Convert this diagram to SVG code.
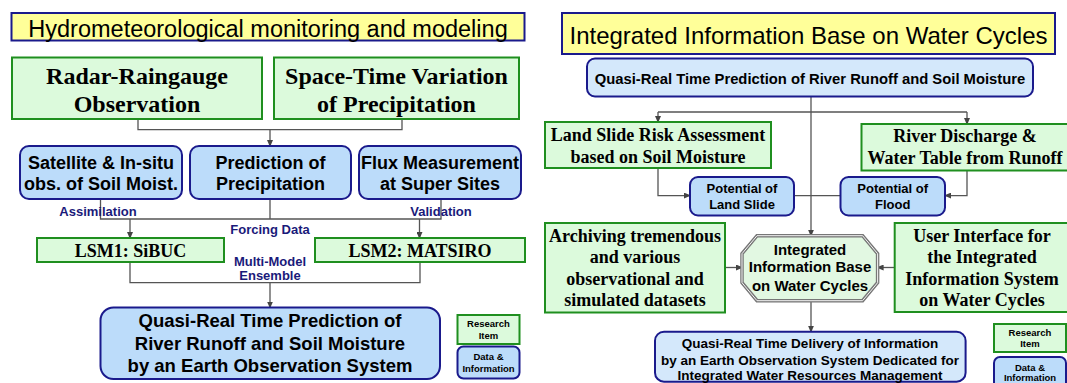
<svg xmlns="http://www.w3.org/2000/svg" width="1067" height="383" viewBox="0 0 1067 383">
<style>
.title{fill:#ffff99;stroke:#1a1a8c;stroke-width:2}
.g{fill:#dcfadc;stroke:#1f8f1f;stroke-width:2}
.b{fill:#bcdcfa;stroke:#1a1a8c;stroke-width:2}
.b2{fill:#d4e8fb;stroke:#1a1a8c;stroke-width:2}
.ln{fill:none;stroke:#555;stroke-width:1.3}
.arr{marker-end:url(#ah)}
.tt{font-family:"Liberation Sans",Arial,sans-serif;font-size:24px;fill:#000;text-anchor:middle}
.sf{font-family:"Liberation Serif","Times New Roman",serif;font-weight:bold;fill:#000;text-anchor:middle}
.ss{font-family:"Liberation Sans",Arial,sans-serif;font-weight:bold;fill:#000;text-anchor:middle}
.lab{font-family:"Liberation Sans",Arial,sans-serif;font-weight:bold;font-size:13px;fill:#1a1a7a;text-anchor:middle}
.leg{font-family:"Liberation Sans",Arial,sans-serif;font-weight:bold;font-size:9.5px;fill:#000;text-anchor:middle}
</style>
<defs>
<marker id="ah" markerWidth="7" markerHeight="6" refX="6" refY="3" orient="auto" markerUnits="userSpaceOnUse">
<path d="M0,0 L7,3 L0,6 Z" fill="#444"/>
</marker>
</defs>
<rect width="1067" height="383" fill="#fff"/>

<g id="connectors">
<path class="ln" d="M138 119 V129.6 H402 V119"/>
<path class="ln arr" d="M270 129.6 V146"/>
<path class="ln" d="M100.5 199 V219 H441 V199 M270 199 V219"/>
<path class="ln arr" d="M130 219 V238"/>
<path class="ln arr" d="M419.5 219 V238"/>
<path class="ln" d="M130 262 V282.7 H420 V262"/>
<path class="ln arr" d="M270 282.7 V307.5"/>
<path class="ln arr" d="M811 96.5 V235.7"/>
<path class="ln" d="M658 112 H967"/>
<path class="ln arr" d="M658 112 V122"/>
<path class="ln arr" d="M967 112 V124"/>
<path class="ln arr" d="M658 168 V195.6 H690"/>
<path class="ln arr" d="M967 170.5 V195.6 H945"/>
<path class="ln" d="M794 195.6 H840.5"/>
<path class="ln arr" d="M725 267.5 H742"/>
<path class="ln arr" d="M894.7 267.5 H877.6"/>
<path class="ln arr" d="M811 300.7 V331.7"/>
<text class="lab" x="98" y="216">Assimilation</text>
<text class="lab" x="441" y="216">Validation</text>
<text class="lab" x="270" y="234">Forcing Data</text>
<text class="lab" x="270" y="266">Multi-Model</text>
<text class="lab" x="270" y="280">Ensemble</text>
</g>

<g id="title-left">
<rect class="title" x="11.5" y="13" width="513" height="27.5"/>
<text class="tt" x="268" y="37" style="font-size:23.5px">Hydrometeorological monitoring and modeling</text>
</g>
<g id="radar">
<rect class="g" x="12" y="57.5" width="250" height="61.5"/>
<text class="sf" x="137" y="84" font-size="24">Radar-Raingauge</text>
<text class="sf" x="137" y="112" font-size="24">Observation</text>
</g>
<g id="spacetime">
<rect class="g" x="274" y="57.5" width="245" height="61.5"/>
<text class="sf" x="396.5" y="84" font-size="24">Space-Time Variation</text>
<text class="sf" x="396.5" y="112" font-size="24">of Precipitation</text>
</g>
<g id="satellite">
<rect class="b" x="20" y="146" width="162" height="53" rx="9"/>
<text class="ss" x="101" y="169" font-size="18">Satellite &amp; In-situ</text>
<text class="ss" x="101" y="190" font-size="18">obs. of Soil Moist.</text>
</g>
<g id="prediction">
<rect class="b" x="190" y="146" width="161" height="53" rx="9"/>
<text class="ss" x="270.5" y="169" font-size="18">Prediction of</text>
<text class="ss" x="270.5" y="190" font-size="18">Precipitation</text>
</g>
<g id="flux">
<rect class="b" x="359" y="146" width="162" height="53" rx="9"/>
<text class="ss" x="440" y="169" font-size="18">Flux Measurement</text>
<text class="ss" x="440" y="190" font-size="18">at Super Sites</text>
</g>
<g id="lsm1">
<rect class="g" x="37" y="238" width="187" height="24"/>
<text class="sf" x="130.5" y="257" font-size="18">LSM1: SiBUC</text>
</g>
<g id="lsm2">
<rect class="g" x="315" y="238" width="210" height="24"/>
<text class="sf" x="420" y="257" font-size="18">LSM2: MATSIRO</text>
</g>
<g id="quasi-left">
<rect class="b" x="100.5" y="307.5" width="339.5" height="71.5" rx="13"/>
<text class="ss" x="270" y="327" font-size="18.5">Quasi-Real Time Prediction of</text>
<text class="ss" x="270" y="349.5" font-size="18.5">River Runoff and Soil Moisture</text>
<text class="ss" x="270" y="372" font-size="18.5">by an Earth Observation System</text>
</g>
<g id="legend-left">
<rect class="g" x="457.5" y="315" width="62" height="29"/>
<text class="leg" x="488.5" y="327">Research</text>
<text class="leg" x="488.5" y="338.5">Item</text>
<rect class="b" x="457.5" y="346.5" width="62" height="32" rx="6"/>
<text class="leg" x="488.5" y="360">Data &amp;</text>
<text class="leg" x="488.5" y="371.5">Information</text>
</g>

<g id="title-right">
<rect class="title" x="562" y="13" width="493" height="41"/>
<text class="tt" x="808.5" y="43.5">Integrated Information Base on Water Cycles</text>
</g>
<g id="quasi-right">
<rect class="b2" x="587" y="58.5" width="446" height="38" rx="8"/>
<text class="ss" x="810" y="83.5" font-size="14.8">Quasi-Real Time Prediction of River Runoff and Soil Moisture</text>
</g>
<g id="landslide-risk">
<rect class="g" x="545" y="122" width="226" height="46"/>
<text class="sf" x="658" y="140.5" font-size="18">Land Slide Risk Assessment</text>
<text class="sf" x="658" y="162.5" font-size="18">based on Soil Moisture</text>
</g>
<g id="river">
<rect class="g" x="861.5" y="124" width="212" height="46.5"/>
<text class="sf" x="965" y="142" font-size="18">River Discharge &amp;</text>
<text class="sf" x="965" y="164" font-size="18">Water Table from Runoff</text>
</g>
<g id="pot-landslide">
<rect class="b" x="690" y="177" width="104" height="38.5" rx="8"/>
<text class="ss" x="742" y="193" font-size="13">Potential of</text>
<text class="ss" x="742" y="208.6" font-size="13">Land Slide</text>
</g>
<g id="pot-flood">
<rect class="b" x="840.5" y="177" width="104.5" height="38.5" rx="8"/>
<text class="ss" x="892.7" y="193" font-size="13">Potential of</text>
<text class="ss" x="892.7" y="208.6" font-size="13">Flood</text>
</g>
<g id="archiving">
<rect class="g" x="545" y="223" width="180" height="89.5"/>
<text class="sf" x="635" y="241.5" font-size="18">Archiving tremendous</text>
<text class="sf" x="635" y="263" font-size="18">and various</text>
<text class="sf" x="635" y="284.7" font-size="18">observational and</text>
<text class="sf" x="635" y="306" font-size="18">simulated datasets</text>
</g>
<g id="integrated">
<polygon points="757,235.7 862.6,235.7 877.6,253.7 877.6,282.7 862.6,300.7 757,300.7 742,282.7 742,253.7" fill="#e2f8e2" stroke="#777" stroke-width="3.5"/>
<polygon points="757,235.7 862.6,235.7 877.6,253.7 877.6,282.7 862.6,300.7 757,300.7 742,282.7 742,253.7" fill="none" stroke="#f4f4f4" stroke-width="1"/>
<text class="ss" x="810" y="254.5" font-size="15">Integrated</text>
<text class="ss" x="810" y="272" font-size="15">Information Base</text>
<text class="ss" x="810" y="290.5" font-size="15">on Water Cycles</text>
</g>
<g id="user-interface">
<rect class="g" x="894.7" y="223" width="180" height="89"/>
<text class="sf" x="982" y="241.5" font-size="18">User Interface for</text>
<text class="sf" x="982" y="263" font-size="18">the Integrated</text>
<text class="sf" x="982" y="284.7" font-size="18">Information System</text>
<text class="sf" x="982" y="306" font-size="18">on Water Cycles</text>
</g>
<g id="delivery">
<rect class="b2" x="655" y="331.7" width="310.6" height="50" rx="9"/>
<text class="ss" x="810" y="348" font-size="13.5">Quasi-Real Time Delivery of Information</text>
<text class="ss" x="810" y="364.5" font-size="13.5">by an Earth Observation System Dedicated for</text>
<text class="ss" x="810" y="379.5" font-size="13.5">Integrated Water Resources Management</text>
</g>
<g id="legend-right">
<rect class="g" x="994" y="324" width="72" height="28"/>
<text class="leg" x="1030" y="335.5">Research</text>
<text class="leg" x="1030" y="346.5">Item</text>
<rect class="b" x="994" y="357" width="72" height="32" rx="6"/>
<text class="leg" x="1030" y="370.5">Data &amp;</text>
<text class="leg" x="1030" y="381">Information</text>
</g>
</svg>
